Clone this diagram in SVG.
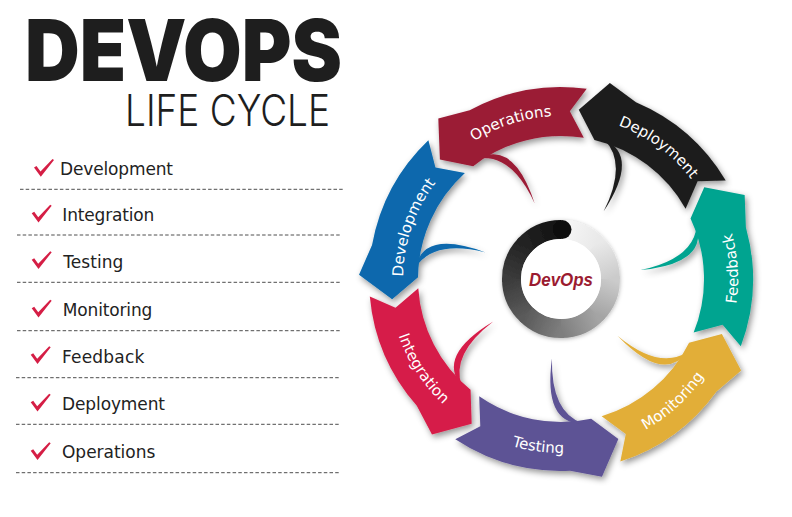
<svg xmlns="http://www.w3.org/2000/svg" width="792" height="517" viewBox="0 0 792 517">
<style>
.title{font-family:"Inter","Lato","DejaVu Sans",sans-serif;fill:#1e1e1e}
.list{font-family:"DejaVu Sans","Noto Sans",sans-serif;font-size:17px;fill:#222}
.dash{stroke:#3a3a3a;stroke-width:0.9;stroke-dasharray:3.5 2.2;fill:none}
.lbl{font-family:"DejaVu Sans","Noto Sans",sans-serif;font-size:15px;fill:#fff}
.chk{fill:#d51e45}
.arc{fill:none;stroke-width:19}
</style>
<defs>
<filter id="sh" x="-20%" y="-20%" width="140%" height="140%"><feDropShadow dx="2" dy="3" stdDeviation="3" flood-color="#000" flood-opacity="0.42"/></filter>
<filter id="rsh" x="-20%" y="-20%" width="140%" height="140%"><feDropShadow dx="0" dy="1" stdDeviation="2" flood-color="#000" flood-opacity="0.3"/></filter>
<path id="arrow" d="M -136.0 135.5 A 192 192 0 0 0 -30.0 189.6 L 0 202 L 23.7 168.4 L 1.2 143 A 143 143 0 0 1 -103.9 98.3 L -108.9 127.9 Z"/>
<path id="swoosh" d="M -7.6 146 Q -47 139 -25 76 Q -37 129 -7.6 146 Z"/>
<path id="check" d="M -6 -8.5 L -3.5 -10 L 0.5 -4.5 L 12.5 -17 L 14 -16 L 0.8 0.8 Z"/>
<path id="tp-ops" d="M 423.1 192.1 A 163 163 0 0 1 622.6 128.1"/>
<path id="tp-dep" d="M 551.0 115.3 A 164 164 0 0 1 720.5 240.7"/>
<path id="tp-dev" d="M 413.3 335.1 A 158 158 0 0 1 480.1 143.3"/>
<path id="tp-feed" d="M 703.3 384.3 A 177 177 0 0 0 689.4 157.2"/>
<path id="tp-mon" d="M 568.5 451.8 A 173 173 0 0 0 732.5 301.6"/>
<path id="tp-test" d="M 432.3 396.1 A 174 174 0 0 0 654.0 426.1"/>
<path id="tp-int" d="M 390.3 258.0 A 172 172 0 0 0 510.7 443.5"/>
<linearGradient id="g0" gradientUnits="userSpaceOnUse" x1="561" y1="229.5" x2="526" y2="244"><stop offset="0" stop-color="#111"/><stop offset="1" stop-color="#222"/></linearGradient>
<linearGradient id="g1" gradientUnits="userSpaceOnUse" x1="526" y1="244" x2="511.5" y2="279"><stop offset="0" stop-color="#222"/><stop offset="1" stop-color="#3b3b3b"/></linearGradient>
<linearGradient id="g2" gradientUnits="userSpaceOnUse" x1="511.5" y1="279" x2="526" y2="314"><stop offset="0" stop-color="#3b3b3b"/><stop offset="1" stop-color="#5a5a5a"/></linearGradient>
<linearGradient id="g3" gradientUnits="userSpaceOnUse" x1="526" y1="314" x2="561" y2="328.5"><stop offset="0" stop-color="#5a5a5a"/><stop offset="1" stop-color="#7e7e7e"/></linearGradient>
<linearGradient id="g4" gradientUnits="userSpaceOnUse" x1="561" y1="328.5" x2="596" y2="314"><stop offset="0" stop-color="#7e7e7e"/><stop offset="1" stop-color="#a4a4a4"/></linearGradient>
<linearGradient id="g5" gradientUnits="userSpaceOnUse" x1="596" y1="314" x2="610.5" y2="279"><stop offset="0" stop-color="#a4a4a4"/><stop offset="1" stop-color="#cbcbcb"/></linearGradient>
<linearGradient id="g6" gradientUnits="userSpaceOnUse" x1="610.5" y1="279" x2="596" y2="244"><stop offset="0" stop-color="#cbcbcb"/><stop offset="1" stop-color="#e9e9e9"/></linearGradient>
<linearGradient id="g7" gradientUnits="userSpaceOnUse" x1="596" y1="244" x2="561" y2="229.5"><stop offset="0" stop-color="#e9e9e9"/><stop offset="1" stop-color="#f7f7f7"/></linearGradient>
</defs>
<rect width="792" height="517" fill="#fff"/>

<g id="title">
<text class="title" x="25" y="80.5" font-size="85" font-weight="900" textLength="317" lengthAdjust="spacingAndGlyphs">DEVOPS</text>
<text class="title" x="125" y="125.5" font-size="43" font-weight="300" textLength="205" lengthAdjust="spacingAndGlyphs">LIFE CYCLE</text>
</g>

<g id="list">
<g id="item-development"><use href="#check" class="chk" transform="translate(40 176)"/><text class="list" x="60" y="174.5" textLength="113">Development</text><line class="dash" x1="20" y1="189.3" x2="344" y2="189.3"/></g>
<g id="item-integration"><use href="#check" class="chk" transform="translate(37.7 221.7)"/><text class="list" x="62.3" y="221" textLength="92">Integration</text><line class="dash" x1="17" y1="235" x2="341" y2="235"/></g>
<g id="item-testing"><use href="#check" class="chk" transform="translate(37.7 268.3)"/><text class="list" x="63.3" y="268.3" textLength="60">Testing</text><line class="dash" x1="17" y1="282.3" x2="341" y2="282.3"/></g>
<g id="item-monitoring"><use href="#check" class="chk" transform="translate(37.7 316.7)"/><text class="list" x="62.7" y="316" textLength="89.7">Monitoring</text><line class="dash" x1="17" y1="330.7" x2="341" y2="330.7"/></g>
<g id="item-feedback"><use href="#check" class="chk" transform="translate(36.7 363.3)"/><text class="list" x="62" y="362.7" textLength="82.3">Feedback</text><line class="dash" x1="16" y1="377.7" x2="340" y2="377.7"/></g>
<g id="item-deployment"><use href="#check" class="chk" transform="translate(36.7 410.7)"/><text class="list" x="62" y="410" textLength="103">Deployment</text><line class="dash" x1="16" y1="424.3" x2="340" y2="424.3"/></g>
<g id="item-operations"><use href="#check" class="chk" transform="translate(36.7 459.3)"/><text class="list" x="62" y="458.3" textLength="93.3">Operations</text><line class="dash" x1="16" y1="472.7" x2="340" y2="472.7"/></g>
</g>

<g id="node-operations">
<g filter="url(#sh)"><g transform="translate(561 279) rotate(142.6)" fill="#9b1b36"><use href="#arrow"/><use href="#swoosh"/></g></g>
<text class="lbl"><textPath href="#tp-ops" startOffset="50%" text-anchor="middle">Operations</textPath></text>
</g>
<g id="node-development">
<g filter="url(#sh)"><g transform="translate(561 279) rotate(91.2)" fill="#0868ad"><use href="#arrow"/><use href="#swoosh"/></g></g>
<text class="lbl"><textPath href="#tp-dev" startOffset="50%" text-anchor="middle">Development</textPath></text>
</g>
<g id="node-integration">
<g filter="url(#sh)"><g transform="translate(561 279) rotate(39.7)" fill="#d61e48"><use href="#arrow"/><use href="#swoosh"/></g></g>
<text class="lbl"><textPath href="#tp-int" startOffset="50%" text-anchor="middle">Integration</textPath></text>
</g>
<g id="node-testing">
<g filter="url(#sh)"><g transform="translate(561 279) rotate(-11.7)" fill="#5d5295"><use href="#arrow"/><use href="#swoosh"/></g></g>
<text class="lbl"><textPath href="#tp-test" startOffset="50%" text-anchor="middle">Testing</textPath></text>
</g>
<g id="node-monitoring">
<g filter="url(#sh)"><g transform="translate(561 279) rotate(-63.1)" fill="#e2ae38"><use href="#arrow"/><use href="#swoosh"/></g></g>
<text class="lbl"><textPath href="#tp-mon" startOffset="50%" text-anchor="middle">Monitoring</textPath></text>
</g>
<g id="node-feedback">
<g filter="url(#sh)"><g transform="translate(561 279) rotate(-114.6)" fill="#00a490"><use href="#arrow"/><use href="#swoosh"/></g></g>
<text class="lbl"><textPath href="#tp-feed" startOffset="50%" text-anchor="middle">Feedback</textPath></text>
</g>
<g id="node-deployment">
<g filter="url(#sh)"><g transform="translate(561 279) rotate(-166)" fill="#1e1e1e"><use href="#arrow"/><use href="#swoosh"/></g></g>
<text class="lbl"><textPath href="#tp-dep" startOffset="50%" text-anchor="middle">Deployment</textPath></text>
</g>

<g id="node-center">
<g filter="url(#rsh)">
<circle cx="561" cy="279" r="58.5" fill="#fff"/>
<path class="arc" stroke="url(#g0)" d="M 561 229.5 A 49.5 49.5 0 0 0 524.2 245.9"/>
<path class="arc" stroke="url(#g1)" d="M 526 244 A 49.5 49.5 0 0 0 511.6 281.6"/>
<path class="arc" stroke="url(#g2)" d="M 511.5 279 A 49.5 49.5 0 0 0 527.9 315.8"/>
<path class="arc" stroke="url(#g3)" d="M 526 314 A 49.5 49.5 0 0 0 563.6 328.4"/>
<path class="arc" stroke="url(#g4)" d="M 561 328.5 A 49.5 49.5 0 0 0 597.8 312.1"/>
<path class="arc" stroke="url(#g5)" d="M 596 314 A 49.5 49.5 0 0 0 610.4 276.4"/>
<path class="arc" stroke="url(#g6)" d="M 610.5 279 A 49.5 49.5 0 0 0 594.1 242.2"/>
<path class="arc" stroke="url(#g7)" d="M 596 244 A 49.5 49.5 0 0 0 561 229.5"/>
<circle cx="562" cy="229.6" r="9.5" fill="#111"/>
</g>
<circle cx="561" cy="279" r="40" fill="#fff"/>
<text x="561" y="285.5" text-anchor="middle" font-family="'Liberation Sans',Arial,sans-serif" font-size="18.5" font-weight="bold" font-style="italic" fill="#9b1b30" textLength="64" lengthAdjust="spacingAndGlyphs">DevOps</text>
</g>
</svg>
